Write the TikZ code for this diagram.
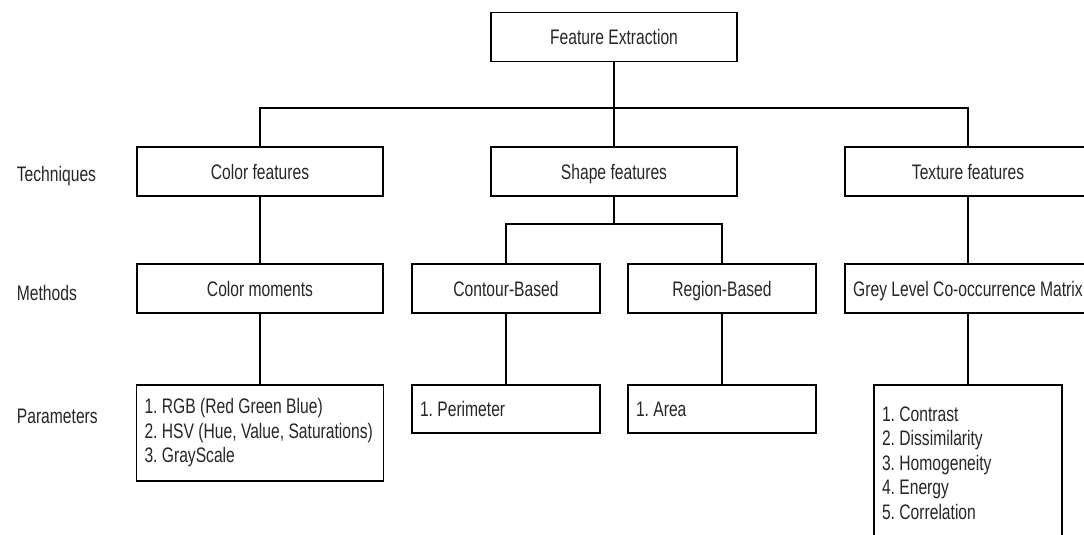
\documentclass[tikz,border=0pt]{standalone}
\usepackage{fontspec}
\setmainfont{Liberation Sans}[FakeStretch=0.745]
\frenchspacing
\begin{document}
\begin{tikzpicture}[x=1pt,y=-1pt,line width=1.1pt,
        every node/.style={font=\fontsize{21}{24.5}\selectfont,text=black!85},
        wide/.style={draw,minimum width=246pt,minimum height=49pt,inner sep=0pt,text height=15pt,text depth=0pt},
        narrow/.style={draw,minimum width=188pt,minimum height=49pt,inner sep=0pt,text height=15pt,text depth=0pt},
        listbox/.style={draw,align=flush left,inner xsep=8pt,inner ysep=0pt}]
            \useasboundingbox (0,0) rectangle (1084,535);

            % row labels
            \foreach \lbl/\y [count=\k] in {Techniques/176,Methods/293,Parameters/416} {
                \node[anchor=west] (row\k) at (13,\y) {\lbl};
            }

            \node[wide] (fe) at (614,37) {Feature Extraction};

            \node[wide] (color) at (260,171.5) {Color features};
            \node[wide] (shape) at (614,171.5) {Shape features};
            \node[wide] (texture) at (968,171.5) {Texture features};

            \node[wide] (moments) at (260,288.5) {Color moments};
            \node[narrow] (contour) at (506,288.5) {Contour-Based};
            \node[narrow] (region) at (722,288.5) {Region-Based};
            \node[wide] (glcm) at (968,288.5) {Grey Level Co-occurrence Matrix};

            \node[listbox,text width=231pt,minimum height=96pt] (colorpar) at (260,433)
                {1. RGB (Red Green Blue)\\2. HSV (Hue, Value, Saturations)\\3. GrayScale};
            \node[listbox,text width=172pt,minimum height=48pt] (perim) at (506,409) {1. Perimeter};
            \node[listbox,text width=172pt,minimum height=48pt] (area) at (722,409) {1. Area};
            \node[listbox,text width=172pt,minimum height=156pt] (texpar) at (968,463)
                {1. Contrast\\2. Dissimilarity\\3. Homogeneity\\4. Energy\\5. Correlation};

            \coordinate (bus) at (614,108);
            \coordinate (sbus) at (614,224);

            \draw (fe.south) -- (shape.north);
            \draw (color.north) |- (bus) -| (texture.north);
            \draw (shape.south) -- (sbus);
            \draw (contour.north) |- (sbus) -| (region.north);

            \draw (color) -- (moments);
            \draw (moments) -- (colorpar);
            \draw (contour) -- (perim);
            \draw (region) -- (area);
            \draw (texture) -- (glcm);
            \draw (glcm) -- (texpar);
        \end{tikzpicture}
\end{document}
